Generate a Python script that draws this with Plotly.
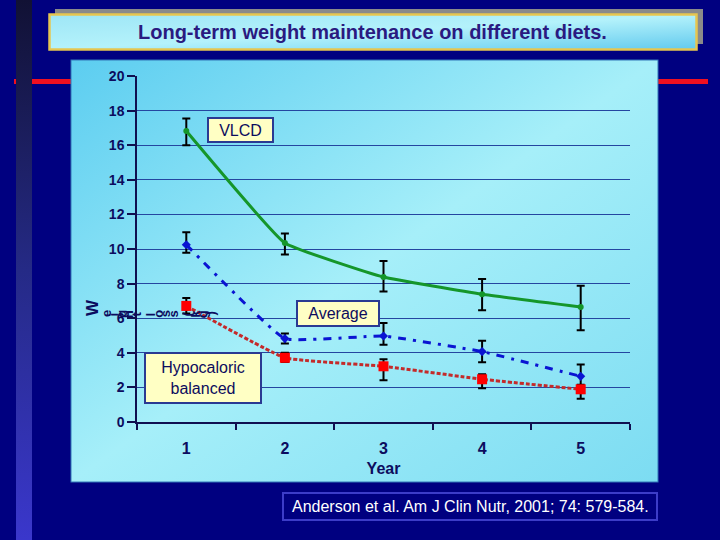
import base64
import plotly.graph_objects as go

# ---------------- data ----------------
years = ["1", "2", "3", "4", "5"]

vlcd = [16.82, 10.35, 8.38, 7.38, 6.65]
vlcd_err_up = [0.72, 0.54, 0.93, 0.89, 1.23]
vlcd_err_dn = [0.83, 0.67, 0.83, 0.92, 1.35]

average = [10.25, 4.82, 4.97, 4.07, 2.64]
average_err_up = [0.72, 0.30, 0.75, 0.63, 0.68]
average_err_dn = [0.47, 0.28, 0.50, 0.62, 0.62]

hypo = [6.71, 3.71, 3.22, 2.47, 1.89]
hypo_err_up = [0.46, 0.30, 0.40, 0.29, 0.27]
hypo_err_dn = [0.44, 0.24, 0.81, 0.52, 0.54]

y_ticks = [0, 2, 4, 6, 8, 10, 12, 14, 16, 18, 20]

title_text = "Long-term weight maintenance on different diets."
citation_text = "Anderson et al. Am J Clin Nutr, 2001; 74: 579-584."
y_title_first = "W"
y_title_rest = "eight loss (kg)"

# ---------------- geometry ----------------
W, H = 720, 540
L, R, T, B = 137, 90, 76, 118
PW, PH = W - L - R, H - T - B


def px(x):
    return (x - L) / PW


def py(y):
    return (H - B - y) / PH


NAVY = "#000080"
TXT = "#0c0c5e"
FONT = "Liberation Sans, Arial"

# background decorations as an SVG image
svg = f'''<svg xmlns="http://www.w3.org/2000/svg" width="{W}" height="{H}" viewBox="0 0 {W} {H}">
<defs>
<linearGradient id="stripe" x1="0" y1="0" x2="0" y2="1">
<stop offset="0" stop-color="#111134"/><stop offset="0.5" stop-color="#252a86"/><stop offset="1" stop-color="#3a37cc"/>
</linearGradient>
<linearGradient id="panel" x1="0" y1="0" x2="1" y2="1">
<stop offset="0" stop-color="#5ccdf0"/><stop offset="0.5" stop-color="#a6eff9"/><stop offset="1" stop-color="#7cdcf2"/>
</linearGradient>
<linearGradient id="tbox" x1="0" y1="0" x2="1" y2="1">
<stop offset="0" stop-color="#9ee6f6"/><stop offset="0.5" stop-color="#b4f2fb"/><stop offset="1" stop-color="#62caee"/>
</linearGradient>
</defs>
<rect x="0" y="0" width="{W}" height="{H}" fill="{NAVY}"/>
<rect x="14" y="79" width="60" height="5" fill="#f01020"/>
<rect x="655" y="79" width="53" height="5" fill="#f01020"/>
<rect x="16" y="0" width="16" height="{H}" fill="url(#stripe)"/>
<rect x="71" y="60" width="587" height="422" fill="url(#panel)" stroke="#3276b8" stroke-width="1"/>
<rect x="55" y="9" width="648" height="35" fill="#8a8a8a"/>
<rect x="49.5" y="14.5" width="647" height="35" fill="url(#tbox)" stroke="#e6c650" stroke-width="2.5"/>
<rect x="283" y="493" width="374" height="27" fill="none" stroke="#3c3cc8" stroke-width="2"/>
</svg>'''
svg_uri = "data:image/svg+xml;base64," + base64.b64encode(svg.encode()).decode()

fig = go.Figure()


def add_series(y, up, dn, color, dash, width, symbol, msize, mcolor):
    fig.add_trace(go.Scatter(
        x=years, y=y, mode="lines+markers",
        line=dict(color=color, width=width, dash=dash, shape="spline", smoothing=0.3),
        marker=dict(symbol=symbol, size=msize, color=mcolor),
        error_y=dict(type="data", symmetric=False, array=up, arrayminus=dn,
                     color="#000000", thickness=2, width=4),
        showlegend=False, hoverinfo="skip", cliponaxis=False,
    ))


add_series(vlcd, vlcd_err_up, vlcd_err_dn, "#15962a", "solid", 3, "circle", 6, "#15962a")
add_series(average, average_err_up, average_err_dn, "#0a14d2", "8px,7px,3px,7px", 3, "diamond", 7, "#0a14d2")
add_series(hypo, hypo_err_up, hypo_err_dn, "#c42a2a", "4px,2px", 3, "square", 10, "#ff0000")

ann = []
# title
ann.append(dict(x=px(372), y=py(32), xref="paper", yref="paper", text=title_text,
                showarrow=False, font=dict(family=FONT, size=20, color="#2a1a80", weight="bold"),
                xanchor="center", yanchor="middle"))
# citation
ann.append(dict(x=px(290), y=py(507), xref="paper", yref="paper", text=citation_text,
                showarrow=False, font=dict(family=FONT, size=16, color="#ffffff"),
                xanchor="left", yanchor="middle"))
# labels in boxes
box = dict(bgcolor="#ffffc4", bordercolor="#2a3a92", borderwidth=2, borderpad=0,
           showarrow=False, xref="paper", yref="paper", xanchor="center", yanchor="middle",
           font=dict(family=FONT, size=16, color=TXT))
ann.append(dict(box, x=px(240.5), y=py(130), text="VLCD", width=63, height=22))
ann.append(dict(box, x=px(338), y=py(313.5), text="Average", width=80, height=23))
ann.append(dict(box, x=px(203), y=py(378), text="Hypocaloric<br>balanced", width=114, height=48))
# garbled y-axis title
ann.append(dict(x=px(92), y=py(308), xref="paper", yref="paper", text=y_title_first,
                textangle=-90, showarrow=False, xanchor="center", yanchor="middle",
                font=dict(family=FONT, size=17, color=TXT, weight="bold")))
for i, ch in enumerate(y_title_rest):
    if ch == " ":
        continue
    ann.append(dict(x=px(106 + i * 7.4), y=py(314), xref="paper", yref="paper", text=ch,
                    textangle=-90, showarrow=False, xanchor="center", yanchor="middle",
                    font=dict(family=FONT, size=13, color=TXT, weight="bold")))

fig.update_layout(
    width=W, height=H,
    margin=dict(l=L, r=R, t=T, b=B),
    paper_bgcolor=NAVY, plot_bgcolor="rgba(0,0,0,0)",
    images=[dict(source=svg_uri, xref="paper", yref="paper", x=px(0), y=py(0),
                 sizex=W / PW, sizey=H / PH, xanchor="left", yanchor="top",
                 sizing="stretch", layer="below")],
    annotations=ann,
    xaxis=dict(type="category", categoryorder="array", categoryarray=years,
               range=[-0.5, 4.5], tickson="boundaries", ticks="outside", ticklen=6,
               tickcolor="#101050", tickwidth=1.5, showline=True, linecolor="#101050",
               linewidth=1.5, showgrid=False, ticklabelstandoff=11,
               tickfont=dict(family=FONT, size=16, color=TXT, weight="bold"),
               title=dict(text="Year", standoff=7,
                          font=dict(family=FONT, size=16, color=TXT, weight="bold"))),
    yaxis=dict(range=[0, 20], tickvals=y_ticks, ticks="outside", ticklen=8,
               tickcolor="#101050", tickwidth=1.5, showline=True, linecolor="#101050",
               linewidth=1.5, showgrid=True, gridcolor="#2446a0", gridwidth=1.3,
               zeroline=False,
               tickfont=dict(family=FONT, size=14, color=TXT, weight="bold")),
)
fig.write_html("out.html")
